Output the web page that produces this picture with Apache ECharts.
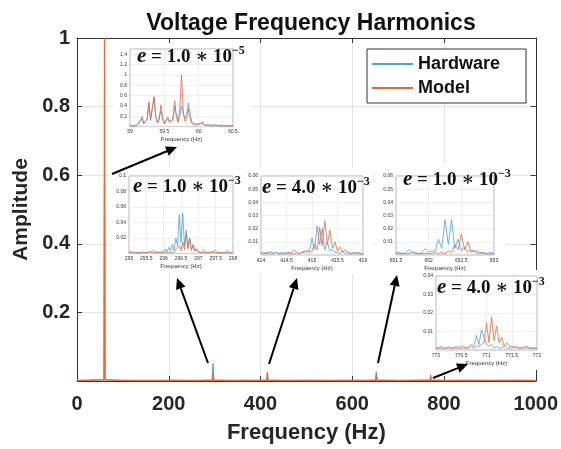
<!DOCTYPE html>
<html><head><meta charset="utf-8">
<script src="https://cdn.jsdelivr.net/npm/echarts/dist/echarts.min.js"></script>
<style>html,body{margin:0;padding:0;background:#fff}#c{width:561px;height:449px}</style>
</head><body><div id="c"></div>
<script>
// ---------------- DATA ----------------
const seriesNames = ['Hardware', 'Model'];
const xTicks = [0, 200, 400, 600, 800, 1000];
const yTicks = [0.2, 0.4, 0.6, 0.8, 1];

const mainFreq = [0,30,59,60,61,90,119,120,121,150,179,180,181,210,239,240,241,270,295,296.5,298,330,360,390,414,415,416,450,500,550,600,630,651,652.5,654,700,740,770,771,772,800,850,900,950,1000];
const mainHw = [0.002,0.003,0.004,0.58,0.004,0.002,0.002,0.005,0.002,0.002,0.002,0.006,0.002,0.002,0.002,0.005,0.002,0.002,0.003,0.052,0.003,0.002,0.002,0.002,0.003,0.022,0.003,0.002,0.002,0.002,0.002,0.002,0.003,0.027,0.003,0.002,0.002,0.003,0.011,0.003,0.002,0.002,0.002,0.002,0.002];
const mainMd = [0.001,0.002,0.003,1.0,0.003,0.002,0.001,0.002,0.001,0.001,0.001,0.003,0.001,0.002,0.001,0.002,0.001,0.001,0.002,0.025,0.002,0.001,0.002,0.001,0.002,0.026,0.002,0.001,0.002,0.001,0.002,0.001,0.002,0.016,0.002,0.001,0.002,0.002,0.018,0.002,0.001,0.002,0.001,0.002,0.001];

const inset1Freq = [59,59.025,59.05,59.075,59.1,59.125,59.15,59.175,59.2,59.225,59.25,59.275,59.3,59.325,59.35,59.375,59.4,59.425,59.45,59.475,59.5,59.525,59.55,59.575,59.6,59.625,59.65,59.675,59.7,59.725,59.75,59.775,59.8,59.825,59.85,59.875,59.9,59.925,59.95,59.975,60,60.025,60.05,60.075,60.1,60.125,60.15,60.175,60.2,60.225,60.25,60.275,60.3,60.325,60.35,60.375,60.4,60.425,60.45,60.475,60.5];
const inset1Hw = [0.02,0.02,0.02,0.02,0.03,0.05,0.12,0.20,0.07,0.05, 0.15,0.45,0.15,0.12,0.56,0.20,0.08,0.10,0.30,0.18, 0.06,0.05,0.18,0.10,0.07,0.15,0.40,0.22,0.10,0.20, 0.40,0.25,0.15,0.25,0.46,0.25,0.10,0.06,0.04,0.05, 0.08,0.05,0.10,0.04,0.03,0.03,0.05,0.03,0.02,0.03, 0.04,0.02,0.02,0.03,0.02,0.02,0.02,0.02,0.02,0.02, 0.02];
const inset1Md = [0.01,0.01,0.01,0.01,0.02,0.03,0.10,0.15,0.05,0.04, 0.12,0.48,0.12,0.10,0.58,0.18,0.07,0.12,0.42,0.15, 0.05,0.08,0.17,0.08,0.06,0.12,0.50,0.20,0.08,0.35, 1.00,0.30,0.10,0.15,0.35,0.15,0.06,0.03,0.03,0.02, 0.05,0.03,0.06,0.03,0.02,0.02,0.03,0.02,0.01,0.02, 0.03,0.01,0.01,0.02,0.01,0.01,0.01,0.01,0.01,0.01, 0.01];

const inset2Freq = [295,295.05,295.1,295.15,295.2,295.25,295.3,295.35,295.4,295.45,295.5,295.55,295.6,295.65,295.7,295.75,295.8,295.85,295.9,295.95,296,296.05,296.1,296.15,296.2,296.25,296.3,296.35,296.4,296.45,296.5,296.55,296.6,296.65,296.7,296.75,296.8,296.85,296.9,296.95,297,297.05,297.1,297.15,297.2,297.25,297.3,297.35,297.4,297.45,297.5,297.55,297.6,297.65,297.7,297.75,297.8,297.85,297.9,297.95,298];
const inset2Hw = [0.002,0.001,0.002,0.004,0.001,0.002,0.001,0.003,0.001,0.002, 0.001,0.003,0.002,0.001,0.004,0.002,0.001,0.003,0.002,0.004, 0.002,0.006,0.002,0.008,0.003,0.012,0.004,0.020,0.010,0.050, 0.015,0.052,0.010,0.030,0.008,0.020,0.005,0.010,0.003,0.006, 0.002,0.004,0.001,0.005,0.002,0.003,0.001,0.003,0.002,0.001, 0.004,0.001,0.002,0.001,0.003,0.001,0.002,0.004,0.001,0.002, 0.001];
const inset2Md = [0.001,0.001,0.001,0.002,0.001,0.001,0.001,0.001,0.002,0.001, 0.001,0.001,0.002,0.001,0.001,0.001,0.002,0.001,0.001,0.002, 0.001,0.002,0.001,0.002,0.001,0.003,0.002,0.005,0.003,0.010, 0.004,0.015,0.005,0.025,0.006,0.020,0.004,0.012,0.003,0.006, 0.002,0.003,0.001,0.002,0.001,0.002,0.001,0.001,0.002,0.001, 0.001,0.002,0.001,0.001,0.001,0.002,0.001,0.001,0.001,0.001, 0.001];

const inset3Freq = [414,414.05,414.1,414.15,414.2,414.25,414.3,414.35,414.4,414.45,414.5,414.55,414.6,414.65,414.7,414.75,414.8,414.85,414.9,414.95,415,415.05,415.1,415.15,415.2,415.25,415.3,415.35,415.4,415.45,415.5,415.55,415.6,415.65,415.7,415.75,415.8,415.85,415.9,415.95,416];
const inset3Hw = [0.002,0.001,0.002,0.001,0.003,0.001,0.002,0.001,0.002,0.001, 0.002,0.001,0.002,0.004,0.002,0.001,0.002,0.003,0.002,0.003, 0.013,0.004,0.022,0.008,0.020,0.004,0.010,0.003,0.004,0.002, 0.002,0.001,0.003,0.001,0.002,0.001,0.001,0.002,0.001,0.001, 0.001];
const inset3Md = [0.002,0.001,0.001,0.002,0.001,0.001,0.002,0.001,0.001,0.001, 0.001,0.002,0.001,0.001,0.002,0.001,0.002,0.002,0.004,0.002, 0.003,0.008,0.004,0.021,0.007,0.026,0.008,0.019,0.005,0.010, 0.003,0.006,0.002,0.004,0.002,0.001,0.002,0.001,0.002,0.001, 0.001];

const inset4Freq = [651.5,651.55,651.6,651.65,651.7,651.75,651.8,651.85,651.9,651.95,652,652.05,652.1,652.15,652.2,652.25,652.3,652.35,652.4,652.45,652.5,652.55,652.6,652.65,652.7,652.75,652.8,652.85,652.9,652.95,653];
const inset4Hw = [0.002,0.002,0.001,0.002,0.004,0.002,0.002,0.001,0.002,0.005, 0.002,0.003,0.003,0.012,0.005,0.027,0.008,0.027,0.005,0.012, 0.003,0.006,0.002,0.004,0.002,0.003,0.001,0.002,0.001,0.002, 0.001];
const inset4Md = [0.001,0.001,0.001,0.001,0.001,0.002,0.001,0.001,0.001,0.001, 0.001,0.001,0.002,0.001,0.002,0.001,0.003,0.002,0.008,0.004, 0.016,0.004,0.010,0.002,0.004,0.001,0.002,0.001,0.001,0.001, 0.001];

const inset5Freq = [770,770.05,770.1,770.15,770.2,770.25,770.3,770.35,770.4,770.45,770.5,770.55,770.6,770.65,770.7,770.75,770.8,770.85,770.9,770.95,771,771.05,771.1,771.15,771.2,771.25,771.3,771.35,771.4,771.45,771.5,771.55,771.6,771.65,771.7,771.75,771.8,771.85,771.9,771.95,772];
const inset5Hw = [0.001,0.001,0.002,0.001,0.001,0.002,0.001,0.001,0.002,0.001, 0.002,0.002,0.001,0.002,0.003,0.002,0.008,0.003,0.011,0.007, 0.003,0.002,0.003,0.001,0.002,0.001,0.001,0.002,0.001,0.001, 0.001,0.002,0.001,0.001,0.001,0.001,0.002,0.001,0.001,0.001, 0.001];
const inset5Md = [0.001,0.001,0.001,0.001,0.001,0.001,0.001,0.001,0.001,0.001, 0.001,0.001,0.001,0.001,0.002,0.001,0.002,0.002,0.003,0.004, 0.0145,0.004,0.018,0.005,0.013,0.004,0.007,0.002,0.004,0.002, 0.002,0.001,0.002,0.001,0.001,0.002,0.001,0.001,0.001,0.001, 0.001];

const insetMantissa = ['1.0', '1.0', '4.0', '1.0', '4.0'];
const insetExponent = ['−5', '−3', '−3', '−3', '−3'];

// ---------------- STYLE / LAYOUT ----------------
const BLUE = '#4DA2DE', ORANGE = '#E5693B';
const SANS = '"Liberation Sans", Arial, Helvetica, sans-serif';
const SERIF = '"Liberation Serif", "DejaVu Serif", serif';
const zip = (a, b) => a.map((v, i) => [v, b[i]]);

const insets = [
  {freq: inset1Freq, hw: inset1Hw, md: inset1Md, g: {left: 130, top: 49, width: 103, height: 77.6}, x: [59, 60.5, 0.5], y: [0, 1.5, 0.2], box: [113, 43, 137, 102], eq: [137, 57]},
  {freq: inset2Freq, hw: inset2Hw, md: inset2Md, g: {left: 129, top: 176, width: 104, height: 77.5}, x: [295, 298, 0.5], y: [0, 0.1, 0.02], box: [110, 168, 132, 104], eq: [133, 187]},
  {freq: inset3Freq, hw: inset3Hw, md: inset3Md, g: {left: 261, top: 176, width: 102, height: 79}, x: [414, 416, 0.5], y: [0, 0.06, 0.01], box: [243, 168, 130, 106], eq: [262, 188]},
  {freq: inset4Freq, hw: inset4Hw, md: inset4Md, g: {left: 396, top: 176, width: 98, height: 79}, x: [651.5, 653, 0.5], y: [0, 0.06, 0.01], box: [375, 165, 131, 103], eq: [403, 180]},
  {freq: inset5Freq, hw: inset5Hw, md: inset5Md, g: {left: 436, top: 276, width: 101, height: 74}, x: [770, 772, 0.5], y: [0, 0.04, 0.01], box: [420, 270, 135, 100], eq: [437, 288]}
];

const arrows = [
  [112, 174, 177, 147],
  [208, 363, 177, 278],
  [269, 364, 297, 278],
  [378, 363, 397, 275],
  [433, 378, 468, 364]
];

const grids = [{left: 77, right: 25, top: 38, bottom: 68, show: false}];
const xAxes = [
  {type: 'value', gridIndex: 0, min: 0, max: 1000, interval: 200, z: 1,
   axisLine: {show: true, onZero: false, lineStyle: {color: '#333', width: 1}},
   axisTick: {show: true, inside: true, length: 5, lineStyle: {color: '#333'}},
   axisLabel: {show: true, margin: 13, fontSize: 20, fontWeight: 'bold', fontFamily: SANS, color: '#262626',
     formatter: v => xTicks.includes(v) ? String(v) : ''},
   splitLine: {show: true, lineStyle: {color: '#e3e3e3', width: 1}},
   name: 'Frequency (Hz)', nameLocation: 'middle', nameGap: 41,
   nameTextStyle: {fontSize: 22, fontWeight: 'bold', fontFamily: SANS, color: '#262626'}},
  {type: 'value', gridIndex: 0, min: 0, max: 1000, interval: 200, position: 'top', z: 1,
   axisLine: {show: true, onZero: false, lineStyle: {color: '#333'}},
   axisTick: {show: true, inside: true, length: 5, lineStyle: {color: '#333'}},
   axisLabel: {show: false}, splitLine: {show: false}}
];
const yAxes = [
  {type: 'value', gridIndex: 0, min: 0, max: 1, interval: 0.2, z: 1,
   axisLine: {show: true, onZero: false, lineStyle: {color: '#333', width: 1}},
   axisTick: {show: true, inside: true, length: 5, lineStyle: {color: '#333'}},
   axisLabel: {show: true, margin: 7, fontSize: 20, fontWeight: 'bold', fontFamily: SANS, color: '#262626',
     formatter: v => yTicks.some(t => Math.abs(t - v) < 1e-9) ? String(+v.toFixed(1)) : ''},
   splitLine: {show: true, lineStyle: {color: '#e3e3e3', width: 1}},
   name: 'Amplitude', nameLocation: 'middle', nameGap: 37,
   nameTextStyle: {fontSize: 21, fontWeight: 'bold', fontFamily: SANS, color: '#262626'}},
  {type: 'value', gridIndex: 0, min: 0, max: 1, interval: 0.2, position: 'right', z: 1,
   axisLine: {show: true, onZero: false, lineStyle: {color: '#333'}},
   axisTick: {show: true, inside: true, length: 5, lineStyle: {color: '#333'}},
   axisLabel: {show: false}, splitLine: {show: false}}
];
const series = [
  {name: seriesNames[0], type: 'line', xAxisIndex: 0, yAxisIndex: 0, data: zip(mainFreq, mainHw), showSymbol: false, symbol: 'none', lineStyle: {color: BLUE, width: 1.3}, itemStyle: {color: BLUE}, z: 2},
  {name: seriesNames[1], type: 'line', xAxisIndex: 0, yAxisIndex: 0, data: zip(mainFreq, mainMd), showSymbol: false, symbol: 'none', lineStyle: {color: ORANGE, width: 1.3}, itemStyle: {color: ORANGE}, z: 3}
];
const graphics = [];

insets.forEach((ins, k) => {
  const gi = k + 1;      // grid index
  const ai = k + 2;      // axis index (0,1 are the main box axes)
  grids.push(Object.assign({show: true, backgroundColor: '#fff', borderColor: '#a0a0a0', borderWidth: 0.8, z: 4}, ins.g));
  xAxes.push({type: 'value', gridIndex: gi, min: ins.x[0], max: ins.x[1], interval: ins.x[2], z: 5,
    axisLine: {show: false}, axisTick: {show: false},
    axisLabel: {show: true, fontSize: 5, margin: 3, color: '#333', fontFamily: SANS, hideOverlap: false},
    splitLine: {show: true, lineStyle: {color: '#e4e4e4', width: 0.6}},
    name: 'Frequency (Hz)', nameLocation: 'middle', nameGap: 10,
    nameTextStyle: {fontSize: 6, color: '#333', fontFamily: SANS}});
  const yMax = ins.y[1];
  yAxes.push({type: 'value', gridIndex: gi, min: ins.y[0], max: yMax, interval: ins.y[2], z: 5,
    axisLine: {show: false}, axisTick: {show: false},
    axisLabel: {show: true, fontSize: 5, margin: 3, color: '#333', fontFamily: SANS,
      formatter: v => (v <= 0 || v > yMax + 1e-9 || (Math.abs(v - yMax) < 1e-9 && k === 0)) ? '' : String(+v.toFixed(3))},
    splitLine: {show: true, lineStyle: {color: '#e4e4e4', width: 0.6}}});
  series.push({name: seriesNames[0], type: 'line', xAxisIndex: ai, yAxisIndex: ai, data: zip(ins.freq, ins.hw), showSymbol: false, symbol: 'none', lineStyle: {color: BLUE, width: 0.8}, itemStyle: {color: BLUE}, z: 6});
  series.push({name: seriesNames[1], type: 'line', xAxisIndex: ai, yAxisIndex: ai, data: zip(ins.freq, ins.md), showSymbol: false, symbol: 'none', lineStyle: {color: ORANGE, width: 0.8}, itemStyle: {color: ORANGE}, z: 7});
  graphics.push({type: 'rect', shape: {x: ins.box[0], y: ins.box[1], width: ins.box[2], height: ins.box[3]}, style: {fill: '#fff'}, z: 3, silent: true});
  graphics.push({type: 'text', x: ins.eq[0], y: ins.eq[1], z: 20, silent: true,
    style: {text: '{i|e} = ' + insetMantissa[k] + ' ∗ 10{s|' + insetExponent[k] + '}',
      fontSize: 19, fontWeight: 'bold', fontFamily: SERIF, fill: '#111', verticalAlign: 'middle', align: 'left',
      rich: {i: {fontSize: 21, fontStyle: 'italic', fontWeight: 'bold', fontFamily: SERIF, fill: '#111', lineHeight: 24},
             s: {fontSize: 12, fontWeight: 'bold', fontFamily: SERIF, fill: '#111', verticalAlign: 'top', lineHeight: 24}}}});
});

arrows.forEach(a => {
  const [sx, sy, tx, ty] = a;
  const dx = tx - sx, dy = ty - sy, L = Math.hypot(dx, dy);
  const ux = dx / L, uy = dy / L, hl = 11, hw = 5;
  const bx = tx - ux * hl, by = ty - uy * hl;
  graphics.push({type: 'line', z: 21, silent: true, shape: {x1: sx, y1: sy, x2: bx, y2: by}, style: {stroke: '#000', lineWidth: 2}});
  graphics.push({type: 'polygon', z: 21, silent: true, shape: {points: [[tx, ty], [bx - uy * hw, by + ux * hw], [bx + uy * hw, by - ux * hw]]}, style: {fill: '#000'}});
});

const chart = echarts.init(document.getElementById('c'), null, {renderer: 'canvas'});
chart.setOption({
  animation: false,
  backgroundColor: '#fff',
  title: {text: 'Voltage Frequency Harmonics', left: 306, top: 7, textAlign: 'center',
    textStyle: {fontSize: 23, fontWeight: 'bold', fontFamily: SANS, color: '#111'}},
  legend: {data: seriesNames, orient: 'vertical', left: 367, top: 49, z: 20,
    icon: 'rect', itemWidth: 41, itemHeight: 2, itemGap: 6,
    padding: [6, 26, 6, 5], borderColor: '#333', borderWidth: 1, backgroundColor: '#fff',
    textStyle: {fontSize: 18, fontWeight: 'bold', fontFamily: SANS, color: '#111'},
    selectedMode: false},
  grid: grids,
  xAxis: xAxes,
  yAxis: yAxes,
  series: series,
  graphic: graphics
});
</script></body></html>
